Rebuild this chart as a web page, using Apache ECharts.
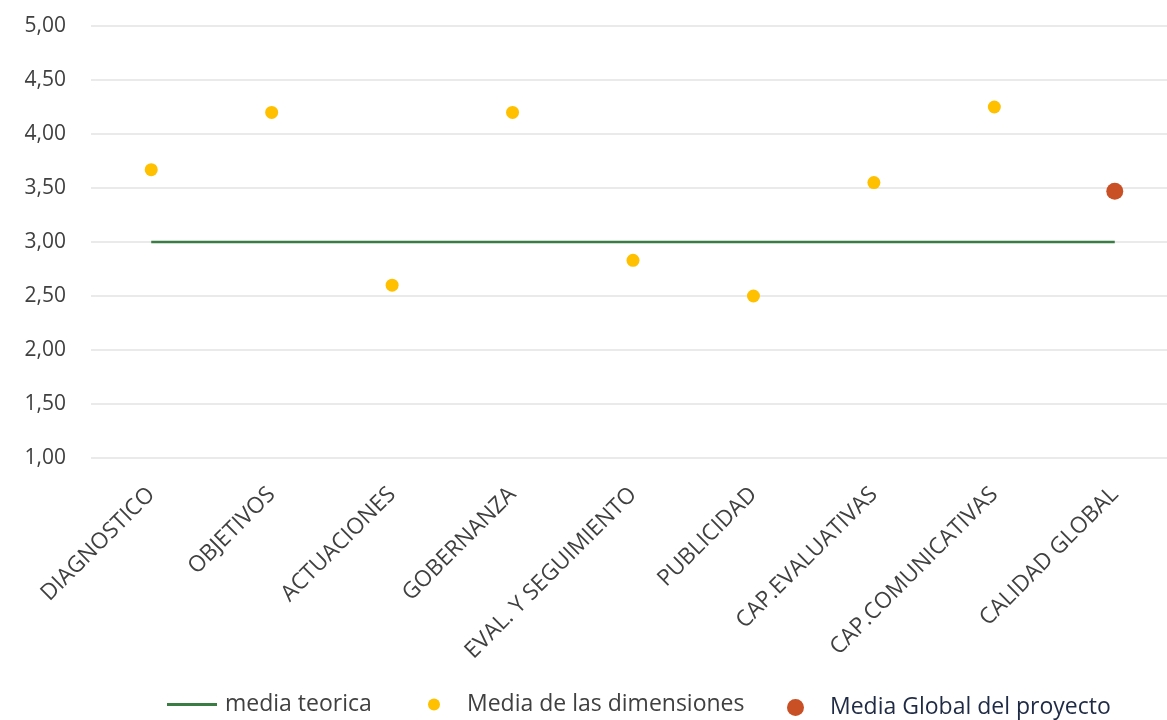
<!DOCTYPE html>
<html>
<head>
<meta charset="utf-8">
<script src="https://cdn.jsdelivr.net/npm/echarts@6/dist/echarts.min.js"></script>
<style>
  html, body { margin: 0; padding: 0; background: #ffffff; overflow: hidden; }
  /* plot area runs slightly past the right edge of the window */
  #chart { width: 1175px; height: 720px; }
</style>
</head>
<body>
<div id="chart"></div>
<script>
// Dimension names along the horizontal axis
const categories = [
  'DIAGNOSTICO', 'OBJETIVOS', 'ACTUACIONES', 'GOBERNANZA',
  'EVAL. Y SEGUIMIENTO', 'PUBLICIDAD', 'CAP.EVALUATIVAS',
  'CAP.COMUNICATIVAS', 'CALIDAD GLOBAL'
];
// Average score of each dimension ('-' = no point for that category)
const mediaDimensiones = [3.67, 4.20, 2.60, 4.20, 2.83, 2.50, 3.55, 4.25, '-'];
// Overall project average, only on the last category
const mediaGlobal = ['-', '-', '-', '-', '-', '-', '-', '-', 3.47];
// Theoretical mean reference line
const mediaTeorica = [3, 3, 3, 3, 3, 3, 3, 3, 3];
// Value axis range
const yMin = 1, yMax = 5, yStep = 0.5;

const FONT = '"Open Sans", "Noto Sans", sans-serif';
const TEXT = '#404040';

const chart = echarts.init(document.getElementById('chart'), null, { renderer: 'canvas' });

function legendText(gap, color) {
  return { fontFamily: FONT, fontSize: 23, color: color, padding: [0, 0, 0, gap] };
}

chart.setOption({
  animation: false,
  backgroundColor: '#ffffff',
  grid: { left: 91, right: 0, top: 26, bottom: 262 },
  xAxis: {
    type: 'category',
    data: categories,
    boundaryGap: true,
    axisLine: { show: false },
    axisTick: { show: false },
    axisLabel: {
      interval: 0,
      rotate: 45,
      margin: 33,
      fontFamily: FONT,
      fontSize: 22.5,
      color: TEXT
    }
  },
  yAxis: {
    type: 'value',
    min: yMin,
    max: yMax,
    interval: yStep,
    axisLine: { show: false },
    axisTick: { show: false },
    splitLine: { lineStyle: { color: '#e3e3e3', width: 1.5 } },
    axisLabel: {
      margin: 25,
      fontFamily: FONT,
      fontSize: 21,
      color: TEXT,
      formatter: v => v.toFixed(2).replace('.', ',')
    }
  },
  legend: [
    {
      padding: 0, selectedMode: false,
      left: 167, top: 693, data: ['media teorica'],
      icon: 'rect', itemWidth: 50, itemHeight: 3,
      textStyle: legendText(3, TEXT)
    },
    {
      padding: 0, selectedMode: false,
      left: 428, top: 693, data: ['Media de las dimensiones'],
      icon: 'circle', itemWidth: 12, itemHeight: 12,
      textStyle: legendText(22, TEXT)
    },
    {
      padding: 0, selectedMode: false,
      left: 787, top: 696, data: ['Media Global del proyecto'],
      icon: 'circle', itemWidth: 17, itemHeight: 17,
      textStyle: legendText(21, '#1f2a44')
    }
  ],
  series: [
    {
      name: 'media teorica',
      type: 'line',
      data: mediaTeorica,
      symbol: 'none',
      lineStyle: { color: '#3a7d44', width: 2.5 },
      itemStyle: { color: '#3a7d44' },
      z: 1
    },
    {
      name: 'Media de las dimensiones',
      type: 'scatter',
      data: mediaDimensiones,
      symbol: 'circle',
      symbolSize: 13,
      itemStyle: { color: '#ffc000', opacity: 1 },
      z: 3
    },
    {
      name: 'Media Global del proyecto',
      type: 'scatter',
      data: mediaGlobal,
      symbol: 'circle',
      symbolSize: 17,
      itemStyle: { color: '#c94f24', opacity: 1 },
      z: 3
    }
  ]
});
</script>
</body>
</html>
